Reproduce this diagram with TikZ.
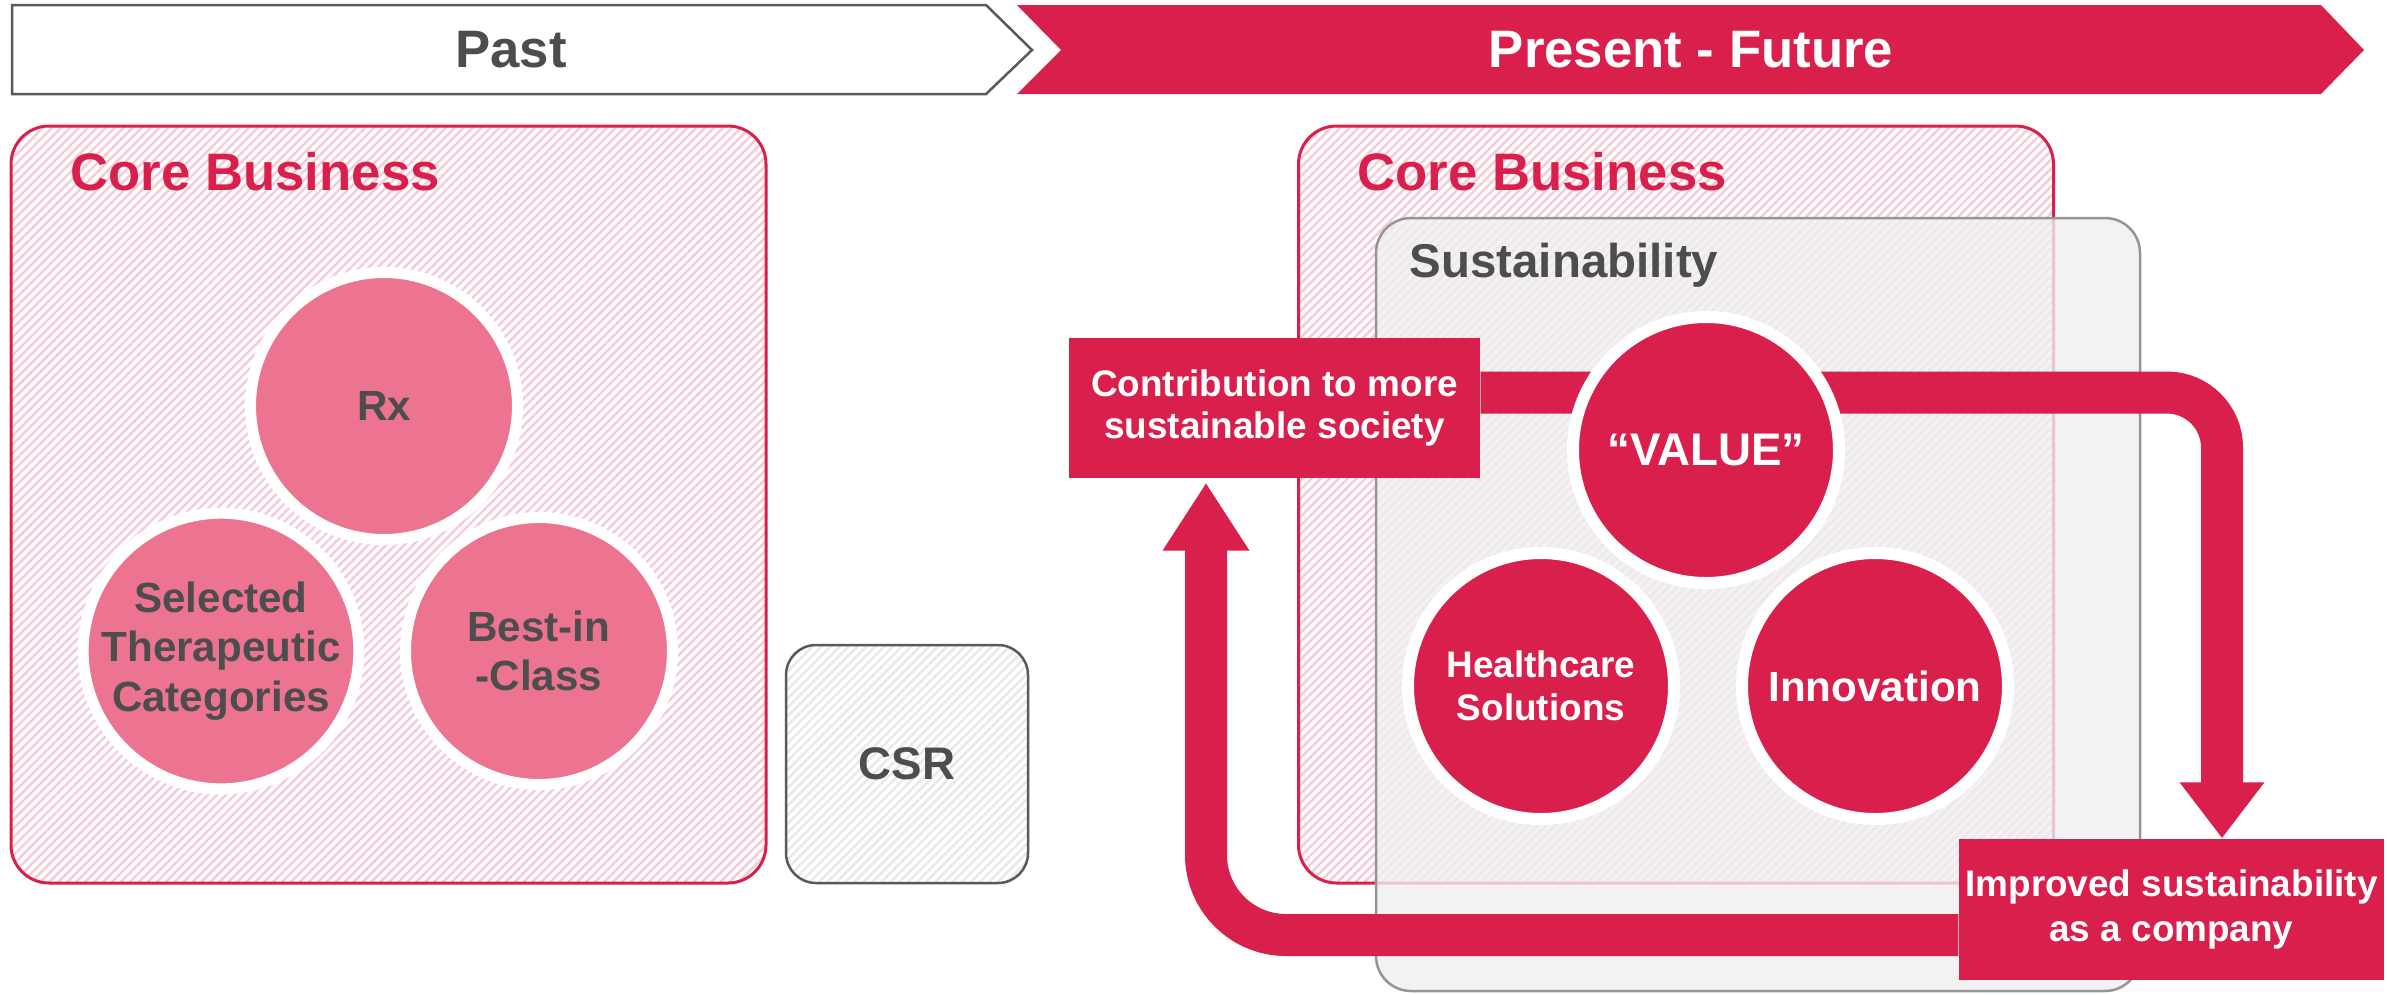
\documentclass[tikz,border=0pt]{standalone}
\usepackage{fontspec}
\setmainfont{Liberation Sans}
\usetikzlibrary{arrows.meta,patterns.meta}
\definecolor{ruby}{HTML}{D91F4B}
\definecolor{rosepink}{HTML}{EC7490}
\definecolor{ink}{HTML}{4D4D4D}
\definecolor{stripe}{HTML}{F7CBD5}
\definecolor{pale}{HTML}{EFEFEF}
\definecolor{framegray}{HTML}{959595}
\definecolor{csrstripe}{HTML}{E9E9E9}
\definecolor{pastline}{HTML}{595959}

\begin{document}
\begin{tikzpicture}[x=.1mm, y=-.1mm,
    corebox/.style={draw=ruby, line width=.3mm, rounded corners=3.8mm,
        preaction={fill=white},
        pattern={Lines[angle=45,distance=1.8pt,line width=.7pt]}, pattern color=stripe,
        minimum width=75.5mm, minimum height=75.7mm, inner sep=0pt},
    coretitle/.style={anchor=base west, text=ruby, font=\bfseries\fontsize{15}{18}\selectfont, inner sep=0pt},
    ring/.style={circle, draw=white, inner sep=0pt, align=center},
    rosedot/.style={ring, fill=rosepink, text=ink, line width=1.1mm, minimum size=26.7mm,
        font=\bfseries\fontsize{12}{14}\selectfont},
    rubydot/.style={ring, fill=ruby, text=white, line width=1.2mm, minimum size=26.6mm},
    tag/.style={fill=ruby, text=white, align=center, inner sep=0pt},
    band/.style={draw=ruby, line width=4.2mm}]

\useasboundingbox (0,0) rectangle (2387,994);

\draw[pastline, line width=.25mm, fill=white] (12,5)--(986,5)--(1032,50)--(986,94)--(12,94)--cycle;
\fill[ruby] (1017,5)--(2321,5)--(2364,50)--(2321,94)--(1017,94)--(1061,50)--cycle;
\node[text=ink, font=\bfseries\fontsize{15}{18}\selectfont] (past) at (511,50) {Past};
\node[text=white, font=\bfseries\fontsize{15}{18}\selectfont] (future) at (1691,50) {Present - Future};

\node[corebox] (coreL) at (388.5,504.5) {};
\node[coretitle] (coreLtitle) at (70,190) {Core Business};
\node[rosedot] (rx) at (384,406) {Rx};
\node[rosedot] (stc) at (221,651) {Selected\\Therapeutic\\Categories};
\node[rosedot] (bic) at (539,651) {Best-in\\-Class};

\node[draw=pastline, line width=.25mm, rounded corners=3mm,
    preaction={fill=white},
    pattern={Lines[angle=45,distance=1.8pt,line width=.7pt]}, pattern color=csrstripe,
    minimum width=24.2mm, minimum height=23.8mm, text=ink,
    font=\bfseries\fontsize{13}{16}\selectfont] (csr) at (907,764) {CSR};

\node[corebox] (coreR) at (1676,504.5) {};
\node[coretitle] (coreRtitle) at (1357,190) {Core Business};
\node[draw=framegray, line width=.25mm, rounded corners=3.5mm, fill=pale, fill opacity=.8,
    minimum width=76.4mm, minimum height=77.3mm] (sus) at (1758,604.5) {};
\node[anchor=base west, text=ink, inner sep=0pt, font=\bfseries\fontsize{13.5}{16}\selectfont]
    (sustitle) at (1409,277) {Sustainability};

\node[tag, minimum width=41.1mm, minimum height=14mm, font=\bfseries\fontsize{10.5}{12}\selectfont]
    (contrib) at (1274.5,408) {Contribution to more\\sustainable society};
\node[tag, minimum width=42.5mm, minimum height=14.1mm, font=\bfseries\fontsize{10.5}{12.8}\selectfont]
    (improved) at (2171.5,909.5) {Improved sustainability\\as a company};

\draw[band, -{Triangle[width=8.1mm,length=5.6mm]}, rounded corners=5.5mm]
    ([yshift=1.55mm]contrib.east) -| ([xshift=5.05mm]improved.north);
\draw[band, -{Triangle[width=8.2mm,length=6.8mm]}, rounded corners=8mm]
    ([yshift=-2.55mm]improved.west) -| ([xshift=-6.85mm,yshift=-.4mm]contrib.south);

\node[rubydot, font=\bfseries\fontsize{13}{15}\selectfont] (value) at (1706,450) {``VALUE''};
\node[rubydot, font=\bfseries\fontsize{10.5}{12.2}\selectfont] (health) at (1541,686) {Healthcare\\Solutions};
\node[rubydot, font=\bfseries\fontsize{12}{14}\selectfont] (innov) at (1875,686) {Innovation};

\end{tikzpicture}
\end{document}
